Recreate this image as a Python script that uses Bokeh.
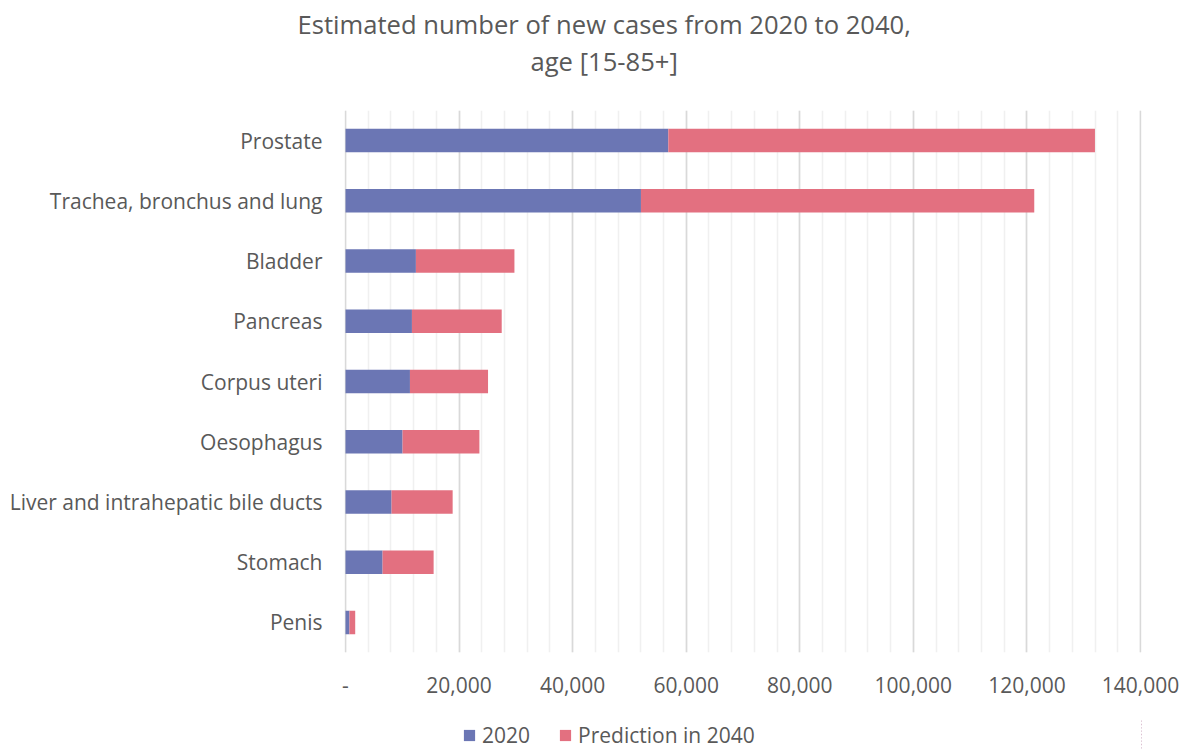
from bokeh.plotting import figure
from bokeh.layouts import column
from bokeh.models import (FactorRange, Range1d, SingleIntervalTicker, CustomJSTickFormatter,
                          Title, Legend, LegendItem, ColumnDataSource)
from bokeh.embed import file_html
from bokeh.resources import INLINE

categories = ["Prostate", "Trachea, bronchus and lung", "Bladder", "Pancreas", "Corpus uteri",
              "Oesophagus", "Liver and intrahepatic bile ducts", "Stomach", "Penis"]
cases_2020 = [56850, 52030, 12400, 11700, 11350, 10050, 8110, 6530, 700]
prediction_2040 = [75130, 69260, 17350, 15810, 13750, 13530, 10760, 8990, 1010]
series_names = ["2020", "Prediction in 2040"]
title_lines = ["Estimated number of new cases from 2020 to 2040,", "age [15-85+]"]
colors = ["#6B76B4", "#E37080"]

FONT = "Open Sans"
TXT = "#595959"
FS = "21px"

src = ColumnDataSource(dict(cat=categories, s2020=cases_2020, s2040=prediction_2040))

p = figure(frame_width=797, frame_height=542, output_backend="svg", toolbar_location=None,
           y_range=FactorRange(factors=list(reversed(categories))),
           x_range=Range1d(-176, 140176),
           min_border_left=344, min_border_right=48, min_border_top=110, min_border_bottom=67)
p.outline_line_color = None
p.background_fill_color = "white"
p.border_fill_color = "white"

rs = p.hbar_stack(["s2020", "s2040"], y="cat", height=0.39, color=colors, line_color=None, source=src)

ticker = SingleIntervalTicker(interval=20000, num_minor_ticks=5)
p.xaxis.ticker = ticker
p.xaxis.formatter = CustomJSTickFormatter(code="return tick == 0 ? '-' : tick.toLocaleString('en-US');")
p.xaxis.axis_line_color = None
p.xaxis.major_tick_line_color = None
p.xaxis.minor_tick_line_color = None
p.xaxis.major_label_standoff = 18
p.xaxis.major_label_text_font = FONT
p.xaxis.major_label_text_font_size = FS
p.xaxis.major_label_text_color = TXT

p.yaxis.axis_line_color = None
p.yaxis.major_tick_line_color = None
p.yaxis.minor_tick_line_color = None
p.yaxis.major_label_standoff = 16
p.yaxis.major_label_text_font = FONT
p.yaxis.major_label_text_font_size = FS
p.yaxis.major_label_text_color = TXT

p.xgrid.ticker = ticker
p.xgrid.grid_line_color = "#D9D9D9"
p.xgrid.grid_line_width = 1.6
p.xgrid.minor_grid_line_color = "#F0F0F0"
p.xgrid.minor_grid_line_width = 1.6
p.ygrid.grid_line_color = None

# title: spacer nearest to the frame, then line 2, then line 1
p.add_layout(Title(text=" ", text_font_size="1px", standoff=29), "above")
p.add_layout(Title(text=title_lines[1], align="left", offset=186, standoff=0,
                   text_font=FONT, text_font_size="25.6px", text_font_style="normal",
                   text_color=TXT), "above")
p.add_layout(Title(text=title_lines[0], align="left", offset=-47, standoff=0,
                   text_font=FONT, text_font_size="25.6px", text_font_style="normal",
                   text_color=TXT), "above")

# legend strip below the chart (its bars lie well outside its view; only the legend shows)
leg = figure(width=1189, height=30, output_backend="svg", toolbar_location=None,
             x_range=Range1d(-300000, -150000), y_range=FactorRange(factors=list(reversed(categories))),
             x_axis_location=None, y_axis_location=None,
             min_border_left=0, min_border_right=0, min_border_top=0, min_border_bottom=0)
leg.outline_line_color = None
leg.xgrid.grid_line_color = None
leg.ygrid.grid_line_color = None
leg_rs = leg.hbar_stack(["s2020", "s2040"], y="cat", height=0.39, color=colors, line_color=None, source=src)
legend = Legend(items=[LegendItem(label=series_names[i], renderers=[leg_rs[i]]) for i in range(2)],
                location=(118, 0), orientation="horizontal", padding=0, margin=0,
                border_line_color=None, background_fill_alpha=0,
                glyph_width=14, glyph_height=14, label_standoff=6, spacing=28,
                label_text_font=FONT, label_text_font_size=FS, label_text_color=TXT)
leg.add_layout(legend)

open("out.html", "w").write(file_html(column(p, leg, spacing=0), INLINE))
